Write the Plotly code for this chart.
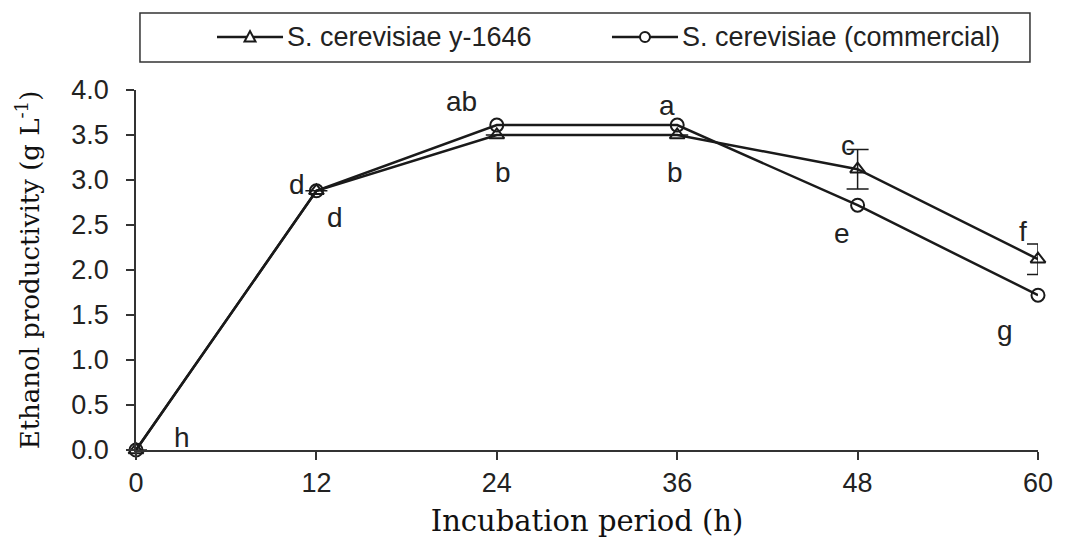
import plotly.graph_objects as go

# Incubation time (h) and ethanol productivity (g/L) for the two strains
hours = [0, 12, 24, 36, 48, 60]
y1646 = [0.0, 2.88, 3.50, 3.50, 3.12, 2.12]
y1646_err = [0.0, 0.0, 0.0, 0.0, 0.22, 0.17]
commercial = [0.0, 2.88, 3.61, 3.61, 2.72, 1.72]

series_names = ["S. cerevisiae y-1646", "S. cerevisiae (commercial)"]

# Significance letters: (x, series, letter, xshift, yshift)
letters = [
    (0, "y", "h", 46, 13),
    (12, "y", "d", -19, 6),
    (12, "y", "d", 19, -27),
    (24, "c", "ab", -35, 24),
    (24, "y", "b", 6, -37),
    (36, "c", "a", -10, 20),
    (36, "y", "b", -2, -37),
    (48, "y", "c", -10, 24),
    (48, "c", "e", -16, -28),
    (60, "y", "f", -15, 28),
    (60, "c", "g", -33, -35),
]

x_ticks = [0, 12, 24, 36, 48, 60]
y_ticks = [0.0, 0.5, 1.0, 1.5, 2.0, 2.5, 3.0, 3.5, 4.0]

INK = "#1a1a1a"

fig = go.Figure()
fig.add_trace(go.Scatter(
    x=hours, y=y1646, mode="lines+markers", name=series_names[0],
    line=dict(color=INK, width=2.5),
    marker=dict(symbol="triangle-up-open", size=13, color=INK, line=dict(width=2)),
    error_y=dict(type="data", array=y1646_err, visible=True, color=INK,
                 thickness=1.5, width=11),
    cliponaxis=False, showlegend=False,
))
fig.add_trace(go.Scatter(
    x=hours, y=commercial, mode="lines+markers", name=series_names[1],
    line=dict(color=INK, width=2.5),
    marker=dict(symbol="circle-open", size=13, color=INK, line=dict(width=2)),
    cliponaxis=False, showlegend=False,
))

series = {"y": y1646, "c": commercial}
for xv, s, txt, dx, dy in letters:
    yv = series[s][hours.index(xv)]
    fig.add_annotation(x=xv, y=yv, xref="x", yref="y", text=txt, showarrow=False,
                       xshift=dx, yshift=dy,
                       font=dict(family="Liberation Sans", size=28, color="#222"))

# Legend: framed box with line samples, marker glyphs and labels
LEG_Y = 1.147
fig.add_shape(type="rect", xref="paper", yref="paper",
              x0=0.0044, x1=0.9911, y0=1.0778, y1=1.2139,
              line=dict(color="#333", width=1.5), fillcolor="white", layer="below")
legend_items = [
    (0.0898, 0.1630, "triangle", series_names[0]),
    (0.5277, 0.6009, "circle", series_names[1]),
]
for x0, x1, glyph, label in legend_items:
    xc = (x0 + x1) / 2
    fig.add_shape(type="line", xref="paper", yref="paper", x0=x0, x1=x1,
                  y0=LEG_Y, y1=LEG_Y, line=dict(color=INK, width=2.5))
    if glyph == "triangle":
        fig.add_shape(type="path", xref="paper", yref="paper",
                      xsizemode="pixel", ysizemode="pixel",
                      xanchor=xc, yanchor=LEG_Y,
                      path="M -5.5 -4.5 L 5.5 -4.5 L 0 6 Z",
                      line=dict(color=INK, width=2), fillcolor="white")
    else:
        fig.add_shape(type="circle", xref="paper", yref="paper",
                      xsizemode="pixel", ysizemode="pixel",
                      xanchor=xc, yanchor=LEG_Y,
                      x0=-5, x1=5, y0=-5, y1=5,
                      line=dict(color=INK, width=2), fillcolor="white")
    fig.add_annotation(x=x1 + 0.002, y=LEG_Y, xref="paper", yref="paper",
                       xanchor="left", yanchor="middle", showarrow=False,
                       text=label,
                       font=dict(family="Liberation Sans", size=27, color="#222"))

fig.update_layout(
    width=1066, height=553,
    margin=dict(l=136, r=28, t=90, b=103),
    paper_bgcolor="white", plot_bgcolor="white",
    showlegend=False,
    xaxis=dict(range=[0, 60], tickvals=x_ticks, ticks="outside", ticklen=8,
               tickwidth=1.5, tickcolor="#333", showline=True, linecolor="#333",
               linewidth=1.5, showgrid=False, zeroline=False,
               tickfont=dict(family="Liberation Sans", size=27, color="#222"),
               title=dict(text="Incubation period (h)", standoff=14,
                          font=dict(family="DejaVu Serif", size=29, color="#111"))),
    yaxis=dict(range=[0, 4.0], tickvals=y_ticks, tickformat=".1f", ticks="outside",
               ticklen=8, tickwidth=1.5, tickcolor="#333", showline=True,
               linecolor="#333", linewidth=1.5, showgrid=False, zeroline=False,
               ticklabelstandoff=12,
               tickfont=dict(family="Liberation Sans", size=27, color="#222"),
               title=dict(text="Ethanol productivity (g L<sup>-1</sup>)", standoff=24,
                          font=dict(family="DejaVu Serif", size=26, color="#111"))),
)

fig.write_html("out.html")
